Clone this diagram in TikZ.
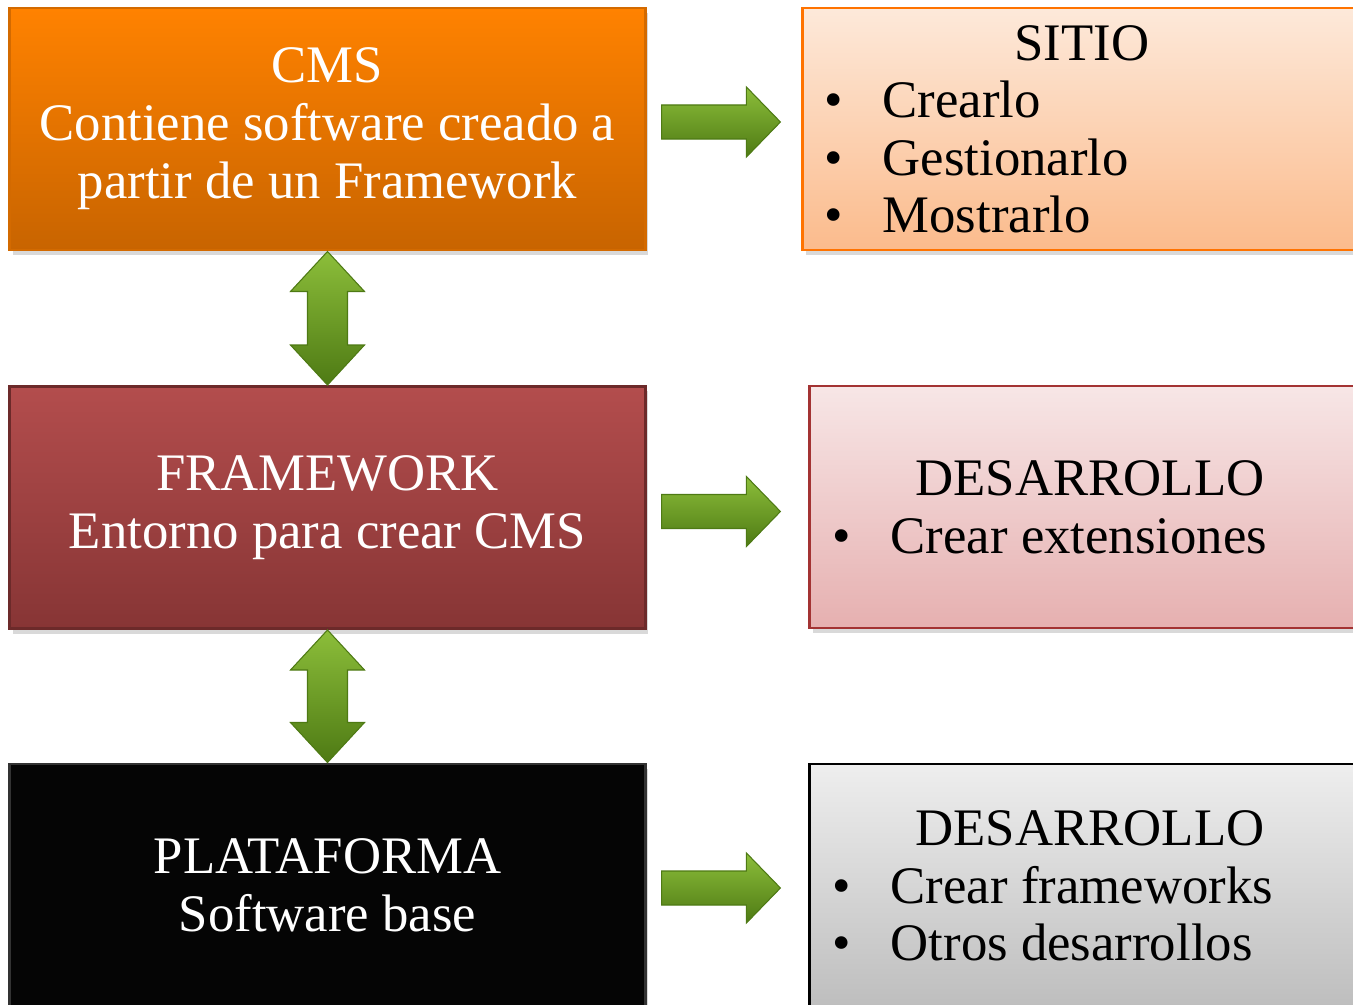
\documentclass[tikz,border=0pt]{standalone}
\usepackage{fontspec}
\setmainfont{Liberation Serif}
\usetikzlibrary{calc,shadows}

\definecolor{cmstop}{HTML}{FF8200}
\definecolor{cmsbot}{HTML}{C86400}
\definecolor{sitop}{HTML}{FDE9DA}
\definecolor{sibot}{HTML}{FBBB8C}
\definecolor{fwtop}{HTML}{B34D4D}
\definecolor{fwbot}{HTML}{873535}
\definecolor{pktop}{HTML}{F7E6E6}
\definecolor{pkbot}{HTML}{E6B0B0}
\definecolor{grtop}{HTML}{EEEEEE}
\definecolor{grbot}{HTML}{BEBEBE}
\definecolor{arrlt}{HTML}{8CBE3A}
\definecolor{arrdk}{HTML}{4E7A14}

\tikzset{
  box/.style={rectangle,inner sep=0pt,line width=0.8pt,
    drop shadow={opacity=0.3,shadow xshift=0.03cm,shadow yshift=-0.05cm}},
  leftbox/.style={box,minimum width=6.35cm,minimum height=2.42cm,
    text=white,align=center},
  rightbox/.style={box,minimum width=5.6cm,minimum height=2.42cm},
  title/.style={anchor=base,inner sep=0pt},
  item/.style={anchor=base west,inner sep=0pt},
  fatarrow/.style={top color=arrlt,bottom color=arrdk,draw=arrdk,line width=0.3pt},
}
\newcommand{\bul}[1]{\makebox[0.58cm][l]{\textbullet}#1}

\begin{document}
\begin{tikzpicture}[x=0.01cm,y=-0.01cm,font=\fontsize{15pt}{16.5pt}\selectfont]
	\useasboundingbox (0,0) rectangle (1353,1005);
	\clip (0,0) rectangle (1353,1005);
	
	%left column
	\node[leftbox,top color=cmstop,bottom color=cmsbot,draw=cmsbot!80!cmstop] (cms) at (327.5,129)
	  {CMS\\Contiene software creado a\\partir de un Framework};
	\node[leftbox,top color=fwtop,bottom color=fwbot,draw=fwbot!80!black] (fw) at (327.5,507.5)
	  {FRAMEWORK\\Entorno para crear CMS};
	\node[leftbox,fill=black!98,draw=black!80] (plat) at (327.5,885)
	  {PLATAFORMA\\Software base};
	
	%right column
	\node[rightbox,top color=sitop,bottom color=sibot,draw=orange!90!red,minimum width=5.62cm] (sitio) at (1084,129) {};
	\node[rightbox,top color=pktop,bottom color=pkbot,draw=red!55!black!80] (desa) at (1090,507) {};
	\node[rightbox,top color=grtop,bottom color=grbot,draw=black] (desb) at (1090,885) {};
	
	%texts of the right boxes
	\node[title] (sitiot) at (1082,60) {SITIO};
	\node[item] (s1) at (824,117) {\bul{Crearlo}};
	\node[item] (s2) at (824,175) {\bul{Gestionarlo}};
	\node[item] (s3) at (824,232) {\bul{Mostrarlo}};
	
	\node[title] (desat) at (1090,495) {DESARROLLO};
	\node[item] (a1) at (832,553) {\bul{Crear extensiones}};
	
	\node[title] (desbt) at (1090,845) {DESARROLLO};
	\node[item] (b1) at (832,903) {\bul{Crear frameworks}};
	\node[item] (b2) at (832,960) {\bul{Otros desarrollos}};
	
	%arrows to the right (gap to target box, shift up)
	\foreach \a/\b/\g/\d in {cms/sitio/0.21/0.07,fw/desa/0.28/-0.04,plat/desb/0.28/-0.03}
	  \path[fatarrow] let \p1=(\a.east), \p2=(\b.west) in
	    (\x1+0.15cm,\y1+\d cm+0.17cm) -- (\x2-\g cm-0.34cm,\y1+\d cm+0.17cm)
	    -- (\x2-\g cm-0.34cm,\y1+\d cm+0.35cm) -- (\x2-\g cm,\y1+\d cm)
	    -- (\x2-\g cm-0.34cm,\y1+\d cm-0.35cm) -- (\x2-\g cm-0.34cm,\y1+\d cm-0.17cm)
	    -- (\x1+0.15cm,\y1+\d cm-0.17cm) -- cycle;
	
	%arrows between the layers
	\foreach \a/\b in {cms/fw,fw/plat}
	  \path[fatarrow] let \p1=(\a.south), \p2=(\b.north) in
	    (\x1,\y1) -- (\x1+0.37cm,\y1-0.40cm) -- (\x1+0.20cm,\y1-0.40cm)
	    -- (\x1+0.20cm,\y2+0.40cm) -- (\x1+0.37cm,\y2+0.40cm) -- (\x1,\y2)
	    -- (\x1-0.37cm,\y2+0.40cm) -- (\x1-0.20cm,\y2+0.40cm)
	    -- (\x1-0.20cm,\y1-0.40cm) -- (\x1-0.37cm,\y1-0.40cm) -- cycle;
\end{tikzpicture}
\end{document}
